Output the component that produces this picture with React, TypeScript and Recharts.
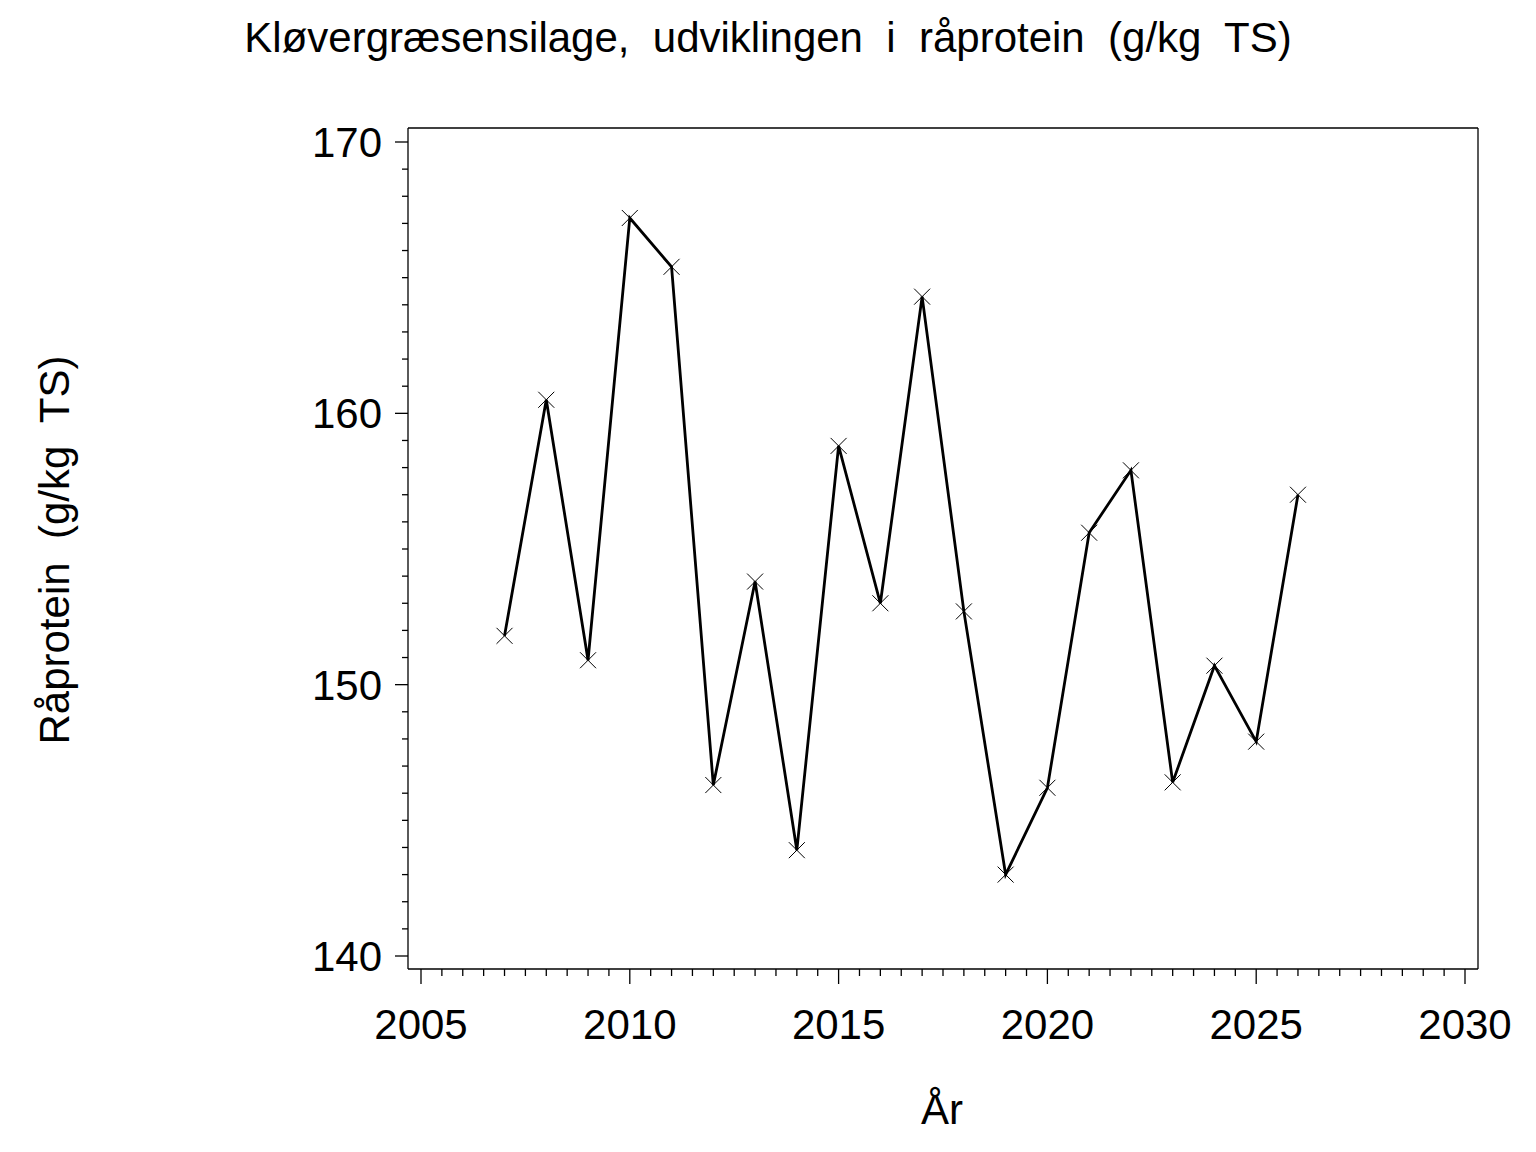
import React from 'react';
import { LineChart, Line, XAxis, YAxis } from 'recharts';

// År og råprotein (g/kg TS)
const years = [2007, 2008, 2009, 2010, 2011, 2012, 2013, 2014, 2015, 2016, 2017, 2018, 2019, 2020, 2021, 2022, 2023, 2024, 2025, 2026];
const protein = [151.8, 160.5, 150.9, 167.2, 165.4, 146.3, 153.8, 143.9, 158.8, 153.0, 164.3, 152.7, 143.0, 146.2, 155.6, 157.9, 146.4, 150.7, 147.9, 157.0];

const xMajor = [2005, 2010, 2015, 2020, 2025, 2030];
const yMajor = [140, 150, 160, 170];

const title = 'Kløvergræsensilage,  udviklingen  i  råprotein  (g/kg  TS)';
const yTitle = 'Råprotein  (g/kg  TS)';
const xTitle = 'År';

const data = years.map((y, i) => ({ year: y, value: protein[i] }));

const xTicks: number[] = [];
for (let v = xMajor[0]; v <= xMajor[xMajor.length - 1]; v += 0.5) xTicks.push(v);
const yTicks: number[] = [];
for (let v = yMajor[0]; v <= yMajor[yMajor.length - 1]; v += 1) yTicks.push(v);

const FONT = '"Liberation Sans", Arial, Helvetica, sans-serif';

const XTick = (props: any) => {
  const { x, y, payload } = props;
  const major = xMajor.includes(payload.value);
  return (
    <g>
      <line x1={x} x2={x} y1={y} y2={y + (major ? 15 : 7)} stroke="#000" strokeWidth={1.3} />
      {major && (
        <text x={x} y={y + 70} textAnchor="middle" fontSize={42} fontFamily={FONT} fill="#000">
          {payload.value}
        </text>
      )}
    </g>
  );
};

const YTick = (props: any) => {
  const { x, y, payload } = props;
  const major = yMajor.includes(payload.value);
  return (
    <g>
      <line x1={x} x2={x - (major ? 13 : 6)} y1={y} y2={y} stroke="#000" strokeWidth={1.3} />
      {major && (
        <text x={x - 26} y={y + 15} textAnchor="end" fontSize={42} fontFamily={FONT} fill="#000">
          {payload.value}
        </text>
      )}
    </g>
  );
};

const Cross = (props: any) => {
  const { cx, cy } = props;
  if (cx == null || cy == null) return null;
  const s = 8;
  return (
    <g>
      <line x1={cx - s} y1={cy - s} x2={cx + s} y2={cy + s} stroke="#000" strokeWidth={1} />
      <line x1={cx - s} y1={cy + s} x2={cx + s} y2={cy - s} stroke="#000" strokeWidth={1} />
    </g>
  );
};

export default function App() {
  return (
    <div style={{ position: 'absolute', left: 0, top: 0, width: 1536, height: 1152, background: '#fff', fontFamily: FONT }}>
      <div style={{ position: 'absolute', left: 0, width: 1536, top: 13, textAlign: 'center', fontSize: 42, whiteSpace: 'pre', lineHeight: '50px' }}>
        {title}
      </div>
      <div
        style={{
          position: 'absolute', left: 55, top: 550, width: 500, marginLeft: -250, marginTop: -25,
          textAlign: 'center', fontSize: 42, lineHeight: '50px', whiteSpace: 'pre', transform: 'rotate(-90deg)',
        }}
      >
        {yTitle}
      </div>
      <div style={{ position: 'absolute', left: 942 - 100, width: 200, top: 1085, textAlign: 'center', fontSize: 42, lineHeight: '50px' }}>
        {xTitle}
      </div>
      <LineChart width={1536} height={1152} data={data} margin={{ top: 127, right: 57, bottom: 182, left: 407 }}>
        <XAxis
          dataKey="year" type="number" domain={[2005, 2030]} ticks={xTicks} interval={0}
          padding={{ left: 13, right: 13 }} height={1} tickSize={0} tickMargin={0} tickLine={false}
          tick={<XTick />} axisLine={{ stroke: '#000', strokeWidth: 1.3 }} allowDataOverflow
        />
        <XAxis xAxisId="top" orientation="top" dataKey="year" type="number" domain={[2005, 2030]} height={1}
          tick={false} tickLine={false} axisLine={{ stroke: '#000', strokeWidth: 1.3 }} />
        <YAxis
          type="number" domain={[140, 170]} ticks={yTicks} interval={0}
          padding={{ top: 14, bottom: 13 }} width={1} tickSize={0} tickMargin={0} tickLine={false}
          tick={<YTick />} axisLine={{ stroke: '#000', strokeWidth: 1.3 }} allowDataOverflow
        />
        <YAxis yAxisId="right" orientation="right" type="number" domain={[140, 170]} width={1}
          tick={false} tickLine={false} axisLine={{ stroke: '#000', strokeWidth: 1.3 }} />
        <Line
          type="linear" dataKey="value" stroke="#000" strokeWidth={2.8}
          dot={<Cross />} activeDot={false} isAnimationActive={false}
        />
      </LineChart>
    </div>
  );
}
